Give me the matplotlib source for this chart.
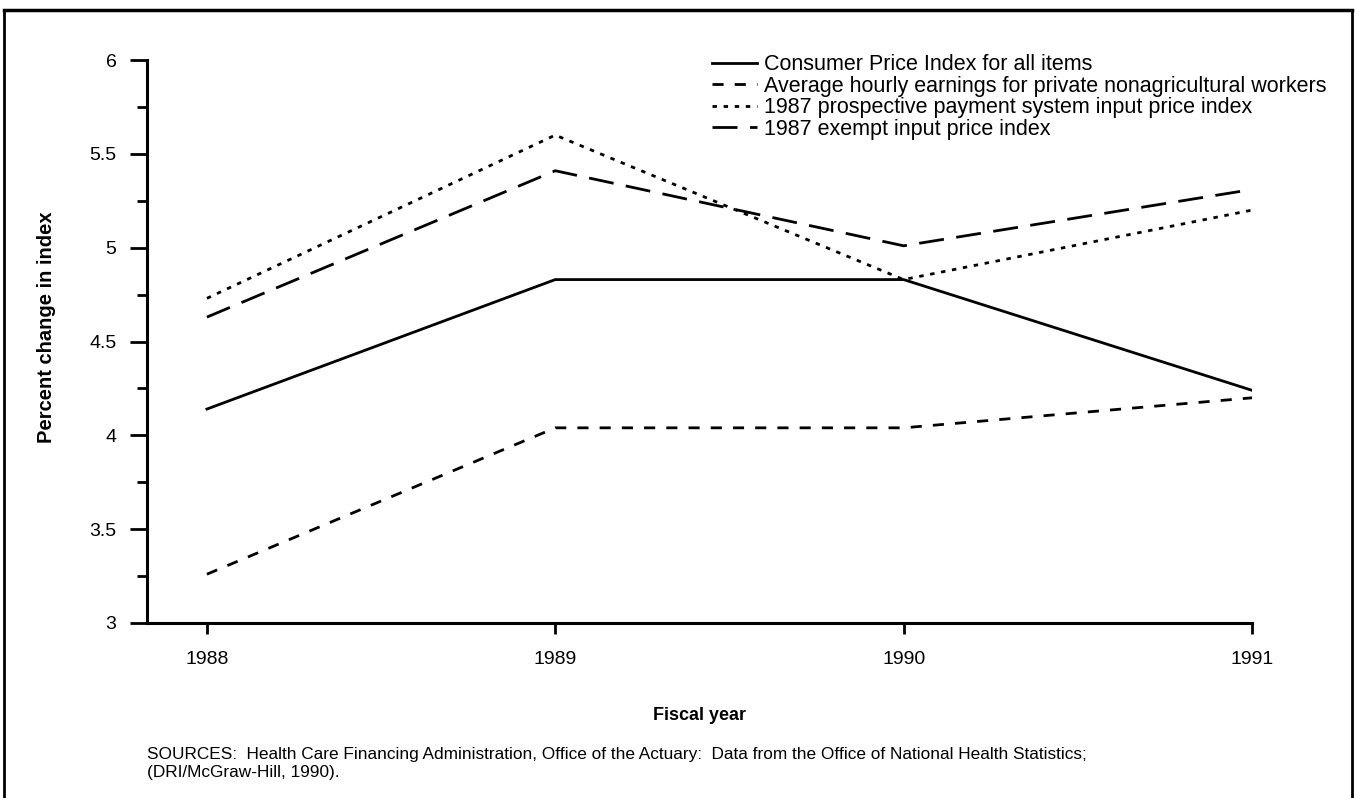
import matplotlib
matplotlib.use("Agg")
import matplotlib.pyplot as plt
from matplotlib.ticker import MultipleLocator, FormatStrFormatter
from matplotlib.lines import Line2D

plt.rcParams['font.family'] = ['Liberation Sans', 'DejaVu Sans']

years = [1988, 1989, 1990, 1991]
cpi = [4.14, 4.83, 4.83, 4.24]
earnings = [3.26, 4.04, 4.04, 4.20]
pps = [4.73, 5.60, 4.83, 5.20]
exempt = [4.63, 5.41, 5.01, 5.31]

labels = ["Consumer Price Index for all items",
          "Average hourly earnings for private nonagricultural workers",
          "1987 prospective payment system input price index",
          "1987 exempt input price index"]

fig = plt.figure(figsize=(13.56, 7.98), dpi=100)
ax = fig.add_axes([0.1084, 0.2193, 0.8149, 0.7055])

ax.plot(years, cpi, color='black', lw=2.0, label=labels[0])
ax.plot(years, earnings, color='black', lw=2.0, dashes=(4, 4), label=labels[1])
ax.plot(years, pps, color='black', lw=2.0, dashes=(1.6, 2.4), label=labels[2])
ax.plot(years, exempt, color='black', lw=2.0, dashes=(9, 4.5), label=labels[3])

ax.set_xlim(1987.828, 1991)
ax.set_ylim(3, 6)
ax.set_xticks(years)
ax.yaxis.set_major_locator(MultipleLocator(0.5))
ax.yaxis.set_minor_locator(MultipleLocator(0.25))
ax.yaxis.set_major_formatter(FormatStrFormatter('%g'))

for s in ['top', 'right']:
    ax.spines[s].set_visible(False)
for s in ['left', 'bottom']:
    ax.spines[s].set_linewidth(2.2)

ax.tick_params(axis='y', which='major', length=12, width=2, labelsize=14, pad=10)
ax.tick_params(axis='y', which='minor', length=7, width=2)
ax.tick_params(axis='x', which='major', length=8, width=2, labelsize=14, pad=12)

ax.set_ylabel('Percent change in index', fontsize=14.5, fontweight='bold', labelpad=24)
ax.yaxis.label.set_y(0.525)
ax.set_xlabel('Fiscal year', fontsize=13, fontweight='bold', labelpad=28)

leg = fig.legend(loc='upper left', bbox_to_anchor=(0.525, 0.932), frameon=False,
                 fontsize=15.5, handlelength=2.1, handletextpad=0.3,
                 labelspacing=0.02, borderaxespad=0, borderpad=0)

fig.text(0.1084, 0.022, "SOURCES:  Health Care Financing Administration, Office of the Actuary:  "
         "Data from the Office of National Health Statistics;\n(DRI/McGraw-Hill, 1990).",
         fontsize=12.4, va='bottom', ha='left', linespacing=1.3)

# outer frame
fig.add_artist(Line2D([0.003, 0.997], [0.987, 0.987], color='black', lw=2.5, transform=fig.transFigure))
fig.add_artist(Line2D([0.003, 0.003], [0.0, 0.987], color='black', lw=2, transform=fig.transFigure))
fig.add_artist(Line2D([0.997, 0.997], [0.0, 0.987], color='black', lw=2, transform=fig.transFigure))

fig.savefig('out.png', dpi=100)
